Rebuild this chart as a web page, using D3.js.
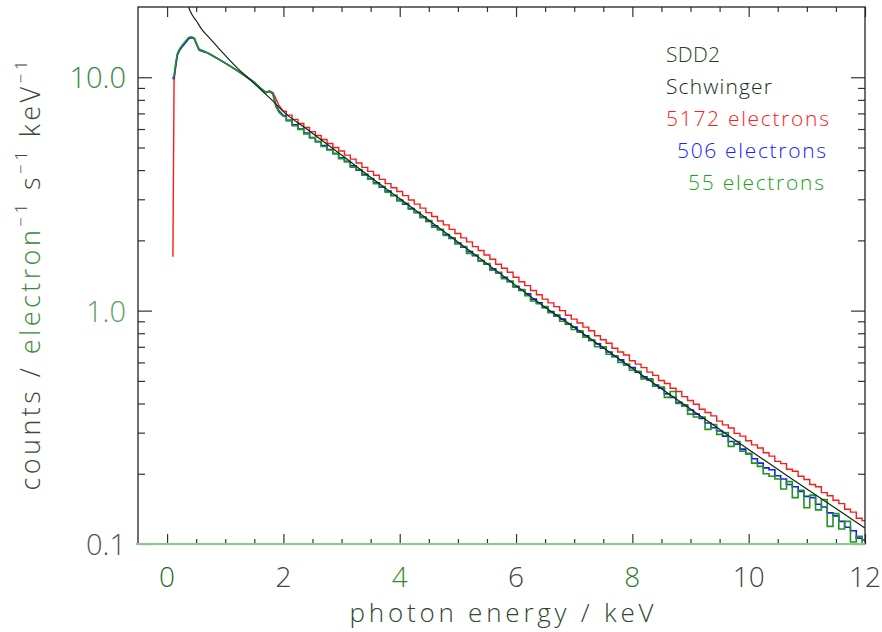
<!DOCTYPE html>
<html>
<head>
<meta charset="utf-8">
<script src="https://cdn.jsdelivr.net/npm/d3@7"></script>
<style>
  body { margin: 0; background: #fff; }
  text { font-family: "Open Sans", "Liberation Sans", Arial, sans-serif; font-weight: 300; }
</style>
</head>
<body>
<svg id="chart"></svg>
<script>
// photon energy grid (keV) shared by the three measured spectra
const energy = [
  0.10, 0.12, 0.15, 0.18, 0.22, 0.27, 0.32, 0.37, 0.42, 0.47, 0.51, 0.55, 0.62, 0.70,
  0.80, 0.90, 1.00, 1.10, 1.20, 1.30, 1.40, 1.50, 1.60, 1.70, 1.76, 1.82, 1.87, 1.92,
  2.0, 2.1, 2.2, 2.3, 2.4, 2.5, 2.6, 2.7, 2.8, 2.9, 3.0,
  3.1, 3.2, 3.3, 3.4, 3.5, 3.6, 3.7, 3.8, 3.9, 4.0,
  4.1, 4.2, 4.3, 4.4, 4.5, 4.6, 4.7, 4.8, 4.9, 5.0,
  5.1, 5.2, 5.3, 5.4, 5.5, 5.6, 5.7, 5.8, 5.9, 6.0,
  6.1, 6.2, 6.3, 6.4, 6.5, 6.6, 6.7, 6.8, 6.9, 7.0,
  7.1, 7.2, 7.3, 7.4, 7.5, 7.6, 7.7, 7.8, 7.9, 8.0,
  8.1, 8.2, 8.3, 8.4, 8.5, 8.6, 8.7, 8.8, 8.9, 9.0,
  9.1, 9.2, 9.3, 9.4, 9.5, 9.6, 9.7, 9.8, 9.9, 10.0,
  10.1, 10.2, 10.3, 10.4, 10.5, 10.6, 10.7, 10.8, 10.9, 11.0,
  11.1, 11.2, 11.3, 11.4, 11.5, 11.6, 11.7, 11.8, 11.9, 12.0
];

// 5172 electrons
const counts5172 = [
  1.7, 9.6, 11.4, 12.6, 13.2, 13.7, 14.2, 14.7, 14.8, 14.6, 13.8, 13.1, 12.9, 12.7,
  12.3, 11.9, 11.5, 11.1, 10.7, 10.3, 9.9, 9.5, 9.0, 8.6, 8.75, 8.6, 8.1, 7.6,
  7.15, 6.88, 6.6, 6.34, 6.09, 5.85, 5.63, 5.41, 5.2, 5.0, 4.83,
  4.64, 4.46, 4.29, 4.11, 3.95, 3.8, 3.65, 3.5, 3.36, 3.24,
  3.11, 2.98, 2.86, 2.75, 2.63, 2.53, 2.42, 2.33, 2.23, 2.14,
  2.05, 1.97, 1.88, 1.81, 1.73, 1.66, 1.58, 1.52, 1.46, 1.39,
  1.33, 1.28, 1.22, 1.17, 1.12, 1.08, 1.04, 1.0, 0.955, 0.92,
  0.885, 0.85, 0.82, 0.78, 0.75, 0.725, 0.69, 0.665, 0.645, 0.61,
  0.59, 0.57, 0.545, 0.528, 0.502, 0.487, 0.465, 0.45, 0.428, 0.412,
  0.397, 0.378, 0.366, 0.354, 0.336, 0.324, 0.314, 0.298, 0.29, 0.277,
  0.266, 0.258, 0.246, 0.238, 0.226, 0.221, 0.209, 0.205, 0.195, 0.189,
  0.18, 0.176, 0.166, 0.161, 0.154, 0.149, 0.141, 0.137, 0.129, 0.126
];

// 506 electrons
const counts506 = [
  9.8, 10.0, 11.2, 12.5, 13.1, 13.6, 14.1, 14.6, 14.8, 14.6, 13.8, 13.1, 12.9, 12.7,
  12.3, 11.9, 11.5, 11.1, 10.7, 10.3, 9.9, 9.5, 9.0, 8.6, 8.7, 8.5, 7.6, 7.2,
  6.85, 6.52, 6.26, 6.0, 5.76, 5.52, 5.3, 5.1, 4.9, 4.7, 4.52,
  4.35, 4.17, 4.0, 3.84, 3.67, 3.53, 3.38, 3.25, 3.11, 2.98,
  2.86, 2.74, 2.63, 2.52, 2.41, 2.31, 2.22, 2.12, 2.04, 1.95,
  1.87, 1.79, 1.72, 1.64, 1.58, 1.51, 1.45, 1.39, 1.33, 1.27,
  1.22, 1.18, 1.12, 1.08, 1.03, 0.99, 0.95, 0.92, 0.875, 0.85,
  0.81, 0.78, 0.745, 0.72, 0.69, 0.665, 0.635, 0.615, 0.585, 0.57,
  0.545, 0.52, 0.505, 0.48, 0.465, 0.44, 0.425, 0.405, 0.39, 0.375,
  0.36, 0.345, 0.33, 0.315, 0.305, 0.29, 0.275, 0.268, 0.255, 0.243,
  0.232, 0.222, 0.212, 0.208, 0.196, 0.19, 0.18, 0.176, 0.168, 0.16,
  0.158, 0.148, 0.144, 0.136, 0.132, 0.125, 0.118, 0.114, 0.106, 0.104
];

// 55 electrons
const counts55 = [
  9.9, 10.2, 11.6, 12.7, 13.3, 13.8, 14.3, 14.8, 14.9, 14.7, 13.9, 13.2, 13.0, 12.7,
  12.3, 11.9, 11.5, 11.1, 10.7, 10.3, 9.9, 9.5, 9.0, 8.6, 8.7, 8.5, 7.5, 7.1,
  6.8, 6.55, 6.2, 5.98, 5.72, 5.5, 5.3, 5.05, 4.88, 4.72, 4.48,
  4.36, 4.12, 4.02, 3.8, 3.68, 3.5, 3.4, 3.22, 3.12, 2.95,
  2.88, 2.72, 2.64, 2.5, 2.43, 2.28, 2.23, 2.1, 2.05, 1.93,
  1.88, 1.76, 1.73, 1.63, 1.59, 1.49, 1.46, 1.37, 1.34, 1.26,
  1.23, 1.16, 1.10, 1.07, 1.04, 0.98, 0.96, 0.9, 0.88, 0.83,
  0.82, 0.77, 0.75, 0.70, 0.70, 0.65, 0.64, 0.60, 0.59, 0.555,
  0.55, 0.51, 0.51, 0.475, 0.47, 0.425, 0.45, 0.40, 0.395, 0.36,
  0.35, 0.35, 0.31, 0.325, 0.295, 0.30, 0.262, 0.275, 0.25, 0.245,
  0.222, 0.215, 0.20, 0.195, 0.19, 0.172, 0.185, 0.158, 0.17, 0.143,
  0.162, 0.14, 0.155, 0.119, 0.135, 0.116, 0.125, 0.102, 0.108, 0.096
];

// Schwinger calculation
const schwingerEnergy = [0.33, 0.37, 0.42, 0.5, 0.6, 0.7, 0.8, 0.9, 1.0, 1.2, 1.4, 1.6, 1.8, 2.0, 2.4,
  3.0, 3.5, 4.0, 4.5, 5.0, 5.5, 6.0, 6.5, 7.0, 7.5, 8.0, 8.5, 9.0, 9.5, 10.0, 10.5, 11.0, 11.5, 12.0];
const schwinger = [21.4, 20.0, 18.7, 17.5, 16.0, 15.0, 14.1, 13.2, 12.4, 11.0, 9.9, 8.9, 8.0, 7.12, 6.0,
  4.64, 3.73, 3.02, 2.44, 1.97, 1.59, 1.28, 1.035, 0.848, 0.693, 0.566, 0.463, 0.379, 0.310, 0.254, 0.209, 0.172, 0.142, 0.117];

const xMajorTicks = [0, 2, 4, 6, 8, 10, 12];
const xMinorTicks = [0.5, 1, 1.5, 2.5, 3, 3.5, 4.5, 5, 5.5, 6.5, 7, 7.5, 8.5, 9, 9.5, 10.5, 11, 11.5];
const yMajorTicks = [0.1, 1, 10];
const yMinorTicks = [0.2, 0.3, 0.4, 0.5, 0.6, 0.7, 0.8, 0.9, 2, 3, 4, 5, 6, 7, 8, 9];

const legendLabels = ['SDD2', 'Schwinger', '5172 electrons', '506 electrons', '55 electrons'];

const margin = { top: 7, right: 17, bottom: 88, left: 138 };
const width = 882 - margin.left - margin.right;
const height = 632 - margin.top - margin.bottom;

const svg = d3.select('#chart')
  .attr('width', 882)
  .attr('height', 632);

svg.append('rect').attr('width', 882).attr('height', 632).attr('fill', '#fff');

const chart = svg.append('g')
  .attr('transform', `translate(${margin.left}, ${margin.top})`);

const x = d3.scaleLinear().domain([-0.5, 12]).range([0, width]);
const y = d3.scaleLog().domain([0.1, 20]).range([height, 0]);

chart.append('clipPath').attr('id', 'clip')
  .append('rect').attr('width', width).attr('height', height);

// spectra: smooth below 2 keV, binned steps above
const linePath = d3.line()
  .x(d => x(d[0]))
  .y(d => y(d[1]));

const stepPath = d3.line()
  .curve(d3.curveStep)
  .x(d => x(d[0]))
  .y(d => y(d[1]));

const spectra = [
  { values: counts5172, color: '#ff1a1a', w: 1.4 },
  { values: counts506, color: '#1a1aff', w: 1.6 },
  { values: counts55, color: '#1f961f', w: 1.6 }
];

const split = energy.indexOf(2.0);

spectra.forEach(s => {
  const pts = energy.map((e, i) => [e, s.values[i]]);
  chart.append('path')
    .datum(pts.slice(0, split + 1))
    .attr('clip-path', 'url(#clip)')
    .attr('fill', 'none')
    .attr('stroke', s.color)
    .attr('stroke-width', s.w)
    .attr('d', linePath);
  chart.append('path')
    .datum(pts.slice(split))
    .attr('clip-path', 'url(#clip)')
    .attr('fill', 'none')
    .attr('stroke', s.color)
    .attr('stroke-width', s.w)
    .attr('d', stepPath);
});

const smoothLine = d3.line()
  .curve(d3.curveMonotoneX)
  .x(d => x(d[0]))
  .y(d => y(d[1]));

chart.append('path')
  .datum(schwingerEnergy.map((e, i) => [e, schwinger[i]]))
  .attr('clip-path', 'url(#clip)')
  .attr('fill', 'none')
  .attr('stroke', '#102810')
  .attr('stroke-width', 1.2)
  .attr('d', smoothLine);

// axes, ticks on all four sides
const tickStyle = g => {
  g.select('.domain').remove();
  g.selectAll('.tick line').attr('stroke', '#333').attr('stroke-width', 1.2);
  g.selectAll('.tick text').remove();
};

chart.append('g').attr('transform', `translate(0, ${height})`)
  .call(d3.axisTop(x).tickValues(xMajorTicks).tickSize(10)).call(tickStyle);
chart.append('g').attr('transform', `translate(0, ${height})`)
  .call(d3.axisTop(x).tickValues(xMinorTicks).tickSize(5)).call(tickStyle);
chart.append('g')
  .call(d3.axisBottom(x).tickValues(xMajorTicks).tickSize(10)).call(tickStyle);
chart.append('g')
  .call(d3.axisBottom(x).tickValues(xMinorTicks).tickSize(5)).call(tickStyle);

chart.append('g')
  .call(d3.axisRight(y).tickValues(yMajorTicks).tickSize(14)).call(tickStyle);
chart.append('g')
  .call(d3.axisRight(y).tickValues(yMinorTicks).tickSize(7)).call(tickStyle);
chart.append('g').attr('transform', `translate(${width}, 0)`)
  .call(d3.axisLeft(y).tickValues(yMajorTicks).tickSize(14)).call(tickStyle);
chart.append('g').attr('transform', `translate(${width}, 0)`)
  .call(d3.axisLeft(y).tickValues(yMinorTicks).tickSize(7)).call(tickStyle);

// frame
chart.append('rect')
  .attr('width', width).attr('height', height)
  .attr('fill', 'none').attr('stroke', '#222').attr('stroke-width', 1.3);
chart.append('line')
  .attr('x1', -2).attr('x2', width).attr('y1', height).attr('y2', height)
  .attr('stroke', '#8cc98c').attr('stroke-width', 2);

// tick labels
const xLabelColors = ['#2a6a2a', '#444', '#2e8b2e', '#444', '#2e7d2e', '#444', '#444'];
chart.append('g').selectAll('text')
  .data(xMajorTicks)
  .enter().append('text')
  .attr('x', d => x(d))
  .attr('y', height + 43)
  .attr('text-anchor', 'middle')
  .attr('font-size', 28)
  .attr('fill', (d, i) => xLabelColors[i])
  .text(d => d);

const yLabelColors = ['#555', '#5ea05e', '#3b8a3b'];
chart.append('g').selectAll('text')
  .data(yMajorTicks)
  .enter().append('text')
  .attr('x', -12)
  .attr('y', d => y(d) + 11)
  .attr('text-anchor', 'end')
  .attr('font-size', 29)
  .attr('fill', (d, i) => yLabelColors[i])
  .text(d3.format('.1f'));

// axis titles
svg.append('text')
  .attr('x', margin.left + width / 2)
  .attr('y', 622)
  .attr('text-anchor', 'middle')
  .attr('font-size', 26)
  .attr('fill', '#2f472f')
  .attr('textLength', 304)
  .attr('lengthAdjust', 'spacing')
  .text('photon energy / keV');

const yTitle = svg.append('text')
  .attr('transform', `translate(40, ${margin.top + height / 2}) rotate(-90)`)
  .attr('text-anchor', 'middle')
  .attr('font-size', 27)
  .attr('fill', '#3a4a3a')
  .attr('textLength', 430)
  .attr('lengthAdjust', 'spacing');
yTitle.append('tspan').text('counts / ');
yTitle.append('tspan').attr('fill', '#3a8a3a').text('electron');
yTitle.append('tspan').attr('font-size', 17).attr('dy', -13).text('\u22121');
yTitle.append('tspan').attr('dy', 13).text(' s');
yTitle.append('tspan').attr('font-size', 17).attr('dy', -13).text('\u22121');
yTitle.append('tspan').attr('dy', 13).text(' keV');
yTitle.append('tspan').attr('font-size', 17).attr('dy', -13).text('\u22121');

// legend
const legendPos = [[666, 62, 54], [666, 94, 106], [666, 126, 163], [677, 158, 149], [688, 190, 136]];
const legendColors = ['#2a3f2a', '#1a2a1a', '#ff2020', '#2020ff', '#22a022'];
svg.append('g').selectAll('text')
  .data(legendLabels)
  .enter().append('text')
  .attr('x', (d, i) => legendPos[i][0])
  .attr('y', (d, i) => legendPos[i][1])
  .attr('font-size', 21)
  .attr('fill', (d, i) => legendColors[i])
  .attr('textLength', (d, i) => legendPos[i][2])
  .attr('lengthAdjust', 'spacing')
  .text(d => d);
</script>
</body>
</html>
